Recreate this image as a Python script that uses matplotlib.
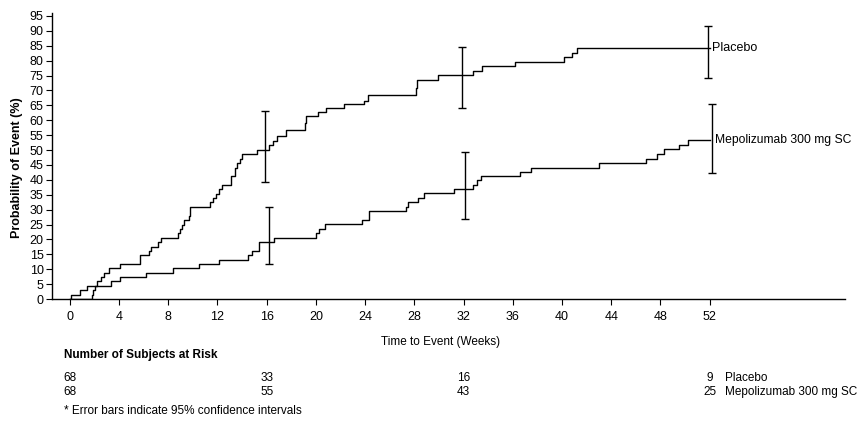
import matplotlib
matplotlib.use('Agg')
import matplotlib.pyplot as plt
import matplotlib.transforms as mtransforms

plt.rcParams['font.family'] = ['Liberation Sans', 'DejaVu Sans']

# Kaplan-Meier style cumulative probability of event (%)
placebo_t = [0, 1.8, 1.9, 2.05, 2.2, 2.5, 2.8, 3.2, 4.1, 5.7, 6.4, 6.6, 7.2, 7.4,
             8.8, 8.95, 9.15, 9.3, 9.65, 9.8, 11.4, 11.6, 11.9, 12.1, 12.4,
             13.1, 13.4, 13.6, 13.8, 14.0, 15.2, 16.2, 16.5, 16.8, 17.6,
             19.1, 19.2, 20.2, 20.8, 22.3, 23.9, 24.2, 28.1, 28.2, 29.9,
             32.8, 33.5, 36.2, 40.2, 40.8, 41.2, 52]
placebo_p = [0, 1.5, 2.9, 4.4, 5.9, 7.4, 8.8, 10.3, 11.8, 14.7, 16.2, 17.6, 19.1, 20.6,
             22.1, 23.5, 25.0, 26.5, 28.0, 30.9, 32.4, 33.8, 35.3, 36.8, 38.2,
             41.2, 44.1, 45.6, 47.1, 48.6, 50.1, 51.8, 53.2, 54.7, 56.6,
             59.0, 61.4, 62.9, 64.1, 65.5, 66.5, 68.5, 70.7, 73.5, 75.2,
             76.6, 78.3, 79.7, 81.1, 82.6, 84.1, 84.1]

mepo_t = [0, 0.1, 0.85, 1.4, 3.35, 4.1, 6.2, 8.4, 10.5, 12.1, 14.5,
          14.8, 15.4, 16.6, 20.0, 20.25, 20.7, 23.75, 24.3, 27.3, 27.5,
          28.3, 28.8, 31.2, 32.8, 33.1, 33.4, 36.6, 37.5, 43.0, 46.8,
          47.7, 48.25, 49.5, 50.2, 52]
mepo_p = [0, 1.5, 2.9, 4.4, 5.9, 7.4, 8.8, 10.3, 11.8, 13.2, 14.7,
          16.2, 19.1, 20.6, 22.1, 23.6, 25.1, 26.6, 29.6, 31.0, 32.4,
          34.0, 35.5, 36.8, 38.2, 39.8, 41.3, 42.6, 44.1, 45.6, 47.0,
          48.6, 50.2, 51.7, 53.3, 53.3]

# 95% CI at weeks 16, 32, 52
ci_weeks = [16, 32, 52]
placebo_mid = [50.1, 75.2, 84.1]
placebo_lo = [39.3, 64.1, 74.3]
placebo_hi = [63.1, 84.6, 91.7]
mepo_mid = [19.1, 36.8, 53.3]
mepo_lo = [11.6, 26.9, 42.2]
mepo_hi = [31.0, 49.2, 65.3]

risk_weeks = [0, 16, 32, 52]
risk_placebo = [68, 33, 16, 9]
risk_mepo = [68, 55, 43, 25]

W, H = 866, 428
fig = plt.figure(figsize=(W / 100, H / 100), dpi=100)
ax = fig.add_axes([52 / W, 1 - 299 / H, (845 - 52) / W, (299 - 13) / H])

ax.step(placebo_t, placebo_p, where='post', color='black', lw=1.0)
ax.step(mepo_t, mepo_p, where='post', color='black', lw=1.0)

dodge = 0.15
ax.errorbar([w - dodge for w in ci_weeks], placebo_mid,
            yerr=[[m - l for m, l in zip(placebo_mid, placebo_lo)],
                  [h - m for m, h in zip(placebo_mid, placebo_hi)]],
            fmt='none', ecolor='black', elinewidth=1.0, capsize=3, capthick=1.0)
ax.errorbar([w + dodge for w in ci_weeks], mepo_mid,
            yerr=[[m - l for m, l in zip(mepo_mid, mepo_lo)],
                  [h - m for m, h in zip(mepo_mid, mepo_hi)]],
            fmt='none', ecolor='black', elinewidth=1.0, capsize=3, capthick=1.0)

ax.text(52.2, placebo_p[-1], 'Placebo', fontsize=9, va='center', ha='left')
ax.text(52.4, mepo_p[-1], 'Mepolizumab 300 mg SC', fontsize=8.7, va='center', ha='left')

ax.set_xlim(-1.45, 63)
ax.set_ylim(0, 96)
ax.set_xticks(range(0, 53, 4))
ax.set_yticks(range(0, 96, 5))
ax.tick_params(axis='both', labelsize=9, length=4, width=0.8, color='black')
ax.tick_params(axis='x', pad=5)
ax.tick_params(axis='y', pad=2)
for s in ['top', 'right']:
    ax.spines[s].set_visible(False)
for s in ['left', 'bottom']:
    ax.spines[s].set_linewidth(1.0)

fig.text(17 / W, 1 - 168 / H, 'Probability of Event (%)', rotation=90,
         fontsize=9, fontweight='bold', ha='center', va='center')

fs = 8.5
fig.text(441 / W, 1 - 342 / H, 'Time to Event (Weeks)', fontsize=fs,
         ha='center', va='center')

# numbers at risk table
fig.text(64 / W, 1 - 355 / H, 'Number of Subjects at Risk', fontsize=fs,
         fontweight='bold', ha='left', va='center')
trans = mtransforms.blended_transform_factory(ax.transData, fig.transFigure)
for wk, a, b in zip(risk_weeks, risk_placebo, risk_mepo):
    ax.text(wk, 1 - 378 / H, str(a), transform=trans, fontsize=fs,
            ha='center', va='center')
    ax.text(wk, 1 - 392 / H, str(b), transform=trans, fontsize=fs,
            ha='center', va='center')
fig.text(725 / W, 1 - 378 / H, 'Placebo', fontsize=fs, ha='left', va='center')
fig.text(725 / W, 1 - 392 / H, 'Mepolizumab 300 mg SC', fontsize=fs,
         ha='left', va='center')
fig.text(64 / W, 1 - 411 / H, '* Error bars indicate 95% confidence intervals',
         fontsize=fs, ha='left', va='center')

fig.savefig('out.png', dpi=100)
